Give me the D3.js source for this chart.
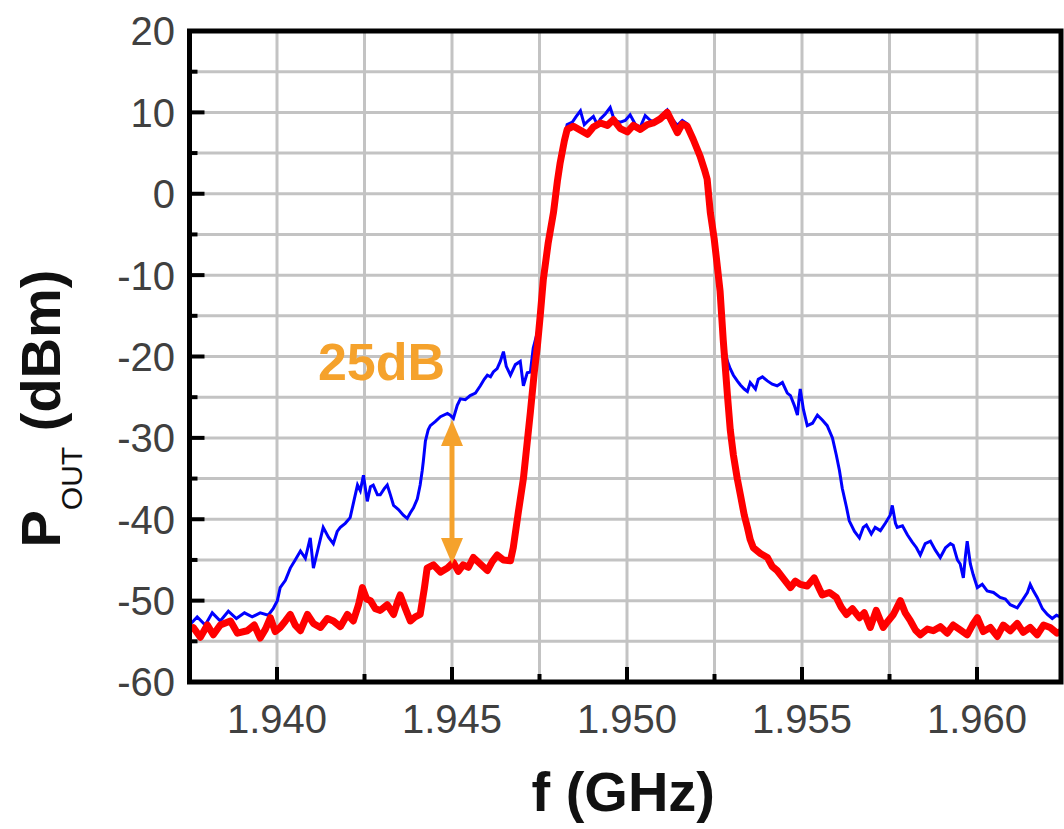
<!DOCTYPE html>
<html><head><meta charset="utf-8">
<script src="https://cdn.jsdelivr.net/npm/d3@7"></script>
<style>html,body{margin:0;padding:0;background:#fff;}svg{display:block;}</style>
</head><body>
<script>
// ---- data ----
const redF = [1.93750,1.93761,1.93781,1.93801,1.93818,1.93838,1.93867,1.93887,1.93915,1.93935,1.93952,1.93967,1.93981,1.93995,1.94009,1.94024,1.94038,1.94052,1.94067,1.94087,1.94104,1.94124,1.94144,1.94161,1.94181,1.94201,1.94218,1.94233,1.94244,1.94256,1.94267,1.94281,1.94295,1.94315,1.94333,1.94344,1.94352,1.94367,1.94381,1.94395,1.94409,1.94421,1.94429,1.94447,1.94467,1.94487,1.94504,1.94518,1.94532,1.94547,1.94561,1.94581,1.94601,1.94615,1.94629,1.94647,1.94667,1.94675,1.94690,1.94704,1.94715,1.94724,1.94735,1.94744,1.94752,1.94761,1.94775,1.94790,1.94801,1.94809,1.94821,1.94829,1.94847,1.94867,1.94887,1.94904,1.94924,1.94944,1.94961,1.94981,1.95001,1.95018,1.95038,1.95058,1.95075,1.95095,1.95115,1.95129,1.95144,1.95158,1.95172,1.95189,1.95209,1.95221,1.95229,1.95238,1.95249,1.95258,1.95266,1.95275,1.95287,1.95295,1.95304,1.95315,1.95324,1.95335,1.95344,1.95352,1.95361,1.95381,1.95401,1.95415,1.95429,1.95447,1.95467,1.95481,1.95495,1.95515,1.95535,1.95550,1.95558,1.95578,1.95598,1.95612,1.95627,1.95644,1.95664,1.95678,1.95695,1.95712,1.95732,1.95746,1.95761,1.95781,1.95795,1.95810,1.95824,1.95838,1.95858,1.95875,1.95895,1.95915,1.95932,1.95952,1.95972,1.95987,1.96001,1.96018,1.96038,1.96058,1.96075,1.96095,1.96115,1.96132,1.96152,1.96172,1.96190,1.96209,1.96229,1.96244];
const redP = [-53.5,-53.3,-54.5,-53.0,-54.2,-53.0,-52.5,-54.0,-53.7,-53.0,-54.6,-53.5,-52.1,-53.8,-53.3,-52.5,-51.7,-53.0,-53.7,-51.7,-52.8,-53.3,-52.2,-52.5,-53.2,-51.7,-52.5,-50.5,-48.4,-49.8,-50.0,-51.0,-51.2,-50.5,-51.7,-50.2,-49.3,-51.0,-52.5,-52.0,-51.7,-48.5,-46.0,-45.6,-46.5,-46.0,-45.3,-46.4,-45.6,-45.9,-44.7,-45.5,-46.3,-45.2,-44.4,-45.0,-45.1,-43.5,-39.0,-35.0,-30.5,-26.8,-22.0,-18.7,-15.0,-10.5,-6.0,-2.3,1.5,3.8,6.5,7.9,8.3,7.8,7.3,8.2,8.7,8.4,9.1,8.0,7.6,8.4,7.9,8.5,8.7,9.2,10.0,8.8,7.5,8.6,8.3,6.7,4.6,3.0,1.8,-2.3,-5.5,-8.9,-12.0,-18.0,-24.8,-29.0,-32.1,-35.0,-37.0,-39.5,-41.0,-42.5,-43.5,-44.2,-44.7,-45.8,-46.3,-47.3,-48.4,-47.6,-48.0,-48.2,-47.2,-48.6,-49.3,-49.0,-49.6,-50.8,-51.7,-51.0,-52.1,-51.5,-53.3,-51.2,-53.3,-52.5,-51.7,-50.0,-51.5,-52.5,-53.6,-54.2,-53.5,-53.7,-53.2,-54.0,-53.0,-53.6,-54.2,-53.0,-52.1,-53.8,-53.3,-54.4,-53.0,-53.7,-52.8,-53.9,-53.3,-54.2,-53.0,-53.3,-54.0,-53.7];

const blueF = [1.93750,1.93772,1.93795,1.93815,1.93838,1.93861,1.93884,1.93907,1.93929,1.93952,1.93975,1.93989,1.94001,1.94009,1.94024,1.94038,1.94052,1.94067,1.94081,1.94095,1.94104,1.94118,1.94132,1.94147,1.94161,1.94172,1.94181,1.94195,1.94209,1.94221,1.94230,1.94238,1.94247,1.94258,1.94267,1.94275,1.94287,1.94295,1.94307,1.94315,1.94324,1.94333,1.94347,1.94361,1.94372,1.94381,1.94390,1.94401,1.94409,1.94415,1.94418,1.94424,1.94432,1.94438,1.94452,1.94467,1.94487,1.94495,1.94504,1.94515,1.94524,1.94538,1.94552,1.94567,1.94581,1.94592,1.94601,1.94610,1.94618,1.94629,1.94638,1.94647,1.94655,1.94667,1.94681,1.94695,1.94704,1.94715,1.94724,1.94732,1.94744,1.94752,1.94761,1.94775,1.94790,1.94801,1.94809,1.94821,1.94829,1.94844,1.94855,1.94867,1.94878,1.94890,1.94904,1.94915,1.94924,1.94938,1.94952,1.94964,1.94981,1.94995,1.95009,1.95024,1.95038,1.95052,1.95067,1.95081,1.95095,1.95115,1.95129,1.95144,1.95158,1.95172,1.95189,1.95209,1.95224,1.95238,1.95252,1.95264,1.95272,1.95281,1.95287,1.95295,1.95304,1.95315,1.95324,1.95335,1.95344,1.95352,1.95367,1.95375,1.95387,1.95401,1.95415,1.95429,1.95444,1.95458,1.95467,1.95478,1.95487,1.95492,1.95495,1.95504,1.95515,1.95530,1.95544,1.95558,1.95572,1.95587,1.95598,1.95607,1.95615,1.95627,1.95635,1.95650,1.95664,1.95675,1.95684,1.95698,1.95709,1.95724,1.95738,1.95752,1.95758,1.95767,1.95772,1.95787,1.95801,1.95815,1.95827,1.95838,1.95852,1.95867,1.95881,1.95895,1.95910,1.95924,1.95932,1.95944,1.95952,1.95961,1.95967,1.95972,1.95981,1.95989,1.96001,1.96015,1.96029,1.96047,1.96066,1.96081,1.96095,1.96115,1.96129,1.96144,1.96152,1.96161,1.96172,1.96187,1.96201,1.96215,1.96227,1.96244];
const blueP = [-53.0,-52.0,-53.0,-51.5,-52.5,-51.3,-52.2,-51.5,-52.0,-51.5,-51.8,-51.0,-50.0,-48.4,-47.5,-46.0,-45.0,-43.9,-44.8,-42.3,-46.0,-43.5,-41.0,-42.2,-43.0,-41.5,-41.0,-40.5,-39.8,-37.5,-35.8,-36.5,-34.6,-37.8,-36.0,-35.8,-37.0,-37.0,-36.2,-35.8,-37.0,-38.3,-38.8,-39.5,-39.9,-39.2,-38.6,-37.5,-35.8,-34.0,-32.9,-30.4,-29.0,-28.5,-28.0,-27.4,-27.0,-27.2,-27.6,-26.0,-25.2,-25.3,-24.8,-24.5,-23.6,-22.8,-22.3,-22.5,-21.9,-21.5,-20.6,-19.4,-21.2,-22.3,-21.0,-20.6,-23.6,-22.0,-21.9,-19.0,-17.0,-14.5,-10.0,-5.5,-1.8,2.0,4.5,7.0,8.5,8.8,9.5,10.2,8.5,9.0,9.5,8.5,9.2,9.8,10.6,9.0,8.8,9.0,9.7,8.5,8.2,9.6,9.0,8.8,9.5,10.3,9.2,8.4,9.0,8.6,7.0,5.0,2.5,-1.8,-6.5,-10.5,-15.0,-19.5,-20.6,-21.5,-22.3,-23.0,-23.5,-24.0,-24.3,-23.2,-24.0,-22.8,-22.5,-23.0,-23.4,-23.6,-23.2,-24.5,-24.8,-26.0,-27.2,-25.0,-24.0,-26.5,-28.5,-28.2,-27.2,-27.8,-28.5,-30.0,-32.1,-34.0,-36.2,-38.5,-40.2,-41.5,-42.3,-41.0,-40.7,-41.8,-41.0,-41.4,-40.5,-39.5,-38.3,-40.5,-41.0,-40.8,-41.9,-42.8,-43.5,-44.4,-43.0,-42.7,-43.8,-44.7,-43.5,-43.0,-43.2,-45.0,-45.5,-47.2,-44.5,-42.7,-45.5,-46.8,-48.4,-48.0,-48.8,-49.0,-49.6,-49.8,-50.5,-50.9,-50.0,-49.0,-48.0,-48.8,-49.6,-51.0,-51.7,-52.2,-51.8,-52.1];

const xTickLabels = ["1.940","1.945","1.950","1.955","1.960"];
const yTickLabels = ["-60","-50","-40","-30","-20","-10","0","10","20"];
const xTitle = "f (GHz)";
const yTitleMain = "P", yTitleSub = "OUT", yTitleRest = " (dBm)";
const annText = "25dB";
const annArrow = {f: 1.945, top: -27.8, bottom: -45.5};
const annTextPos = {f: 1.94117, p: -22.9};

// ---- layout ----
const W = 1064, H = 829;
const svg = d3.select("body").append("svg").attr("width", W).attr("height", H);
const x = d3.scaleLinear().domain([1.9375, 1.9624]).range([189.5, 1061]);
const y = d3.scaleLinear().domain([-60, 20]).range([682, 31]);
const [x0, x1] = x.range(), [y0, y1] = y.range();

svg.append("defs").append("clipPath").attr("id","clip")
  .append("rect").attr("x", x0).attr("y", y1).attr("width", x1 - x0).attr("height", y0 - y1);

// gridlines
const grid = svg.append("g").attr("stroke", "#c3c3c3").attr("stroke-width", 3);
const vGrid = d3.range(1.94, 1.9601, 0.0025);
grid.selectAll("line.v").data(vGrid).join("line").attr("class","v")
  .attr("x1", d => x(d)).attr("x2", d => x(d)).attr("y1", y1).attr("y2", y0);
const hGrid = d3.range(-55, 16, 5);
grid.selectAll("line.h").data(hGrid).join("line").attr("class","h")
  .attr("y1", d => y(d)).attr("y2", d => y(d)).attr("x1", x0).attr("x2", x1);

// curves
const line = d3.line().x(d => x(d[0])).y(d => y(d[1]));
const plot = svg.append("g").attr("clip-path", "url(#clip)");
plot.append("path").datum(d3.zip(blueF, blueP)).attr("d", line)
  .attr("fill","none").attr("stroke","#0000ff").attr("stroke-width",3).attr("stroke-linejoin","miter");
plot.append("path").datum(d3.zip(redF, redP)).attr("d", line)
  .attr("fill","none").attr("stroke","#ff0000").attr("stroke-width",7).attr("stroke-linejoin","round");

// annotation
const orange = "#f5a22c";
const ax = x(annArrow.f), at = y(annArrow.top), ab = y(annArrow.bottom);
svg.append("line").attr("x1", ax).attr("x2", ax).attr("y1", at + 20).attr("y2", ab - 20)
  .attr("stroke", orange).attr("stroke-width", 5);
svg.append("path").attr("fill", orange)
  .attr("d", `M${ax},${at} L${ax+11},${at+26} L${ax-11},${at+26} Z`);
svg.append("path").attr("fill", orange)
  .attr("d", `M${ax},${ab} L${ax+11},${ab-26} L${ax-11},${ab-26} Z`);
svg.append("text").attr("x", x(annTextPos.f)).attr("y", y(annTextPos.p))
  .attr("font-family","Liberation Sans, Arial, sans-serif").attr("font-weight","bold")
  .attr("font-size", 52).attr("fill", orange).text(annText);

// axes frame
const frame = svg.append("g");
frame.append("rect").attr("x", x0).attr("y", y1).attr("width", x1 - x0).attr("height", y0 - y1)
  .attr("fill","none").attr("stroke","#000").attr("stroke-width",5);

// ticks (inward)
const tickG = svg.append("g").attr("stroke","#000").attr("stroke-width",4);
const xMajor = d3.range(1.94, 1.9601, 0.005), xMinor = d3.range(1.9425, 1.9601, 0.005);
tickG.selectAll("line.xM").data(xMajor).join("line").attr("class","xM")
  .attr("x1", d=>x(d)).attr("x2", d=>x(d)).attr("y1", y0).attr("y2", y0 - 15);
tickG.selectAll("line.xm").data(xMinor).join("line").attr("class","xm")
  .attr("x1", d=>x(d)).attr("x2", d=>x(d)).attr("y1", y0).attr("y2", y0 - 8);
const yMajor = d3.range(-50, 11, 10), yMinor = d3.range(-55, 16, 10);
tickG.selectAll("line.yM").data(yMajor).join("line").attr("class","yM")
  .attr("y1", d=>y(d)).attr("y2", d=>y(d)).attr("x1", x0).attr("x2", x0 + 15);
tickG.selectAll("line.ym").data(yMinor).join("line").attr("class","ym")
  .attr("y1", d=>y(d)).attr("y2", d=>y(d)).attr("x1", x0).attr("x2", x0 + 8);

// tick labels
const font = "Liberation Sans, Arial, sans-serif";
svg.append("g").selectAll("text").data(xTickLabels).join("text")
  .attr("x", d => x(+d)).attr("y", 733).attr("text-anchor","middle")
  .attr("font-family", font).attr("font-size", 40).attr("fill","#404040").text(d => d);
svg.append("g").selectAll("text").data(yTickLabels).join("text")
  .attr("x", 175).attr("y", d => y(+d)).attr("dy","0.36em").attr("text-anchor","end")
  .attr("font-family", font).attr("font-size", 40).attr("fill","#404040").text(d => d);

// axis titles
svg.append("text").attr("x", (x0 + x1) / 2 - 2).attr("y", 811).attr("text-anchor","middle")
  .attr("font-family", font).attr("font-weight","bold").attr("font-size", 56).attr("fill","#111")
  .text(xTitle);
const yt = svg.append("text").attr("transform", `translate(60, ${(y0 + y1)/2 + 52}) rotate(-90)`)
  .attr("text-anchor","middle").attr("font-family", font).attr("fill","#111");
yt.append("tspan").attr("font-weight","bold").attr("font-size",56).text(yTitleMain);
yt.append("tspan").attr("font-size",30).attr("dy", 22).text(yTitleSub);
yt.append("tspan").attr("font-weight","bold").attr("font-size",56).attr("dy", -22).text(yTitleRest);
</script>
</body></html>
